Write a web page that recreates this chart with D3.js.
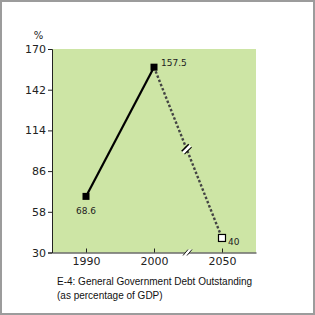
<!DOCTYPE html>
<head>
	<script src="https://d3js.org/d3.v7.min.js"></script>
	<style>
		body { margin: 0; background: #fff; }
		.ticks { font-family: "DejaVu Sans"; font-size: 11px; fill: #222; }
		.vals { font-family: "DejaVu Sans"; font-size: 9px; fill: #222; }
		.caption { font-family: "Liberation Sans"; font-size: 10px; fill: #111; }
	</style>
</head>

<body>
	<script>
		// General Government Debt Outstanding (% of GDP)
		var years = ["1990", "2000", "2050"];
		var debt = [68.6, 157.5, 40];
		var yTicks = [30, 58, 86, 114, 142, 170];
		var captionLines = ["E-4: General Government Debt Outstanding", "(as percentage of GDP)"];

		var width = 315;
		var height = 315;
		var margin = { top: 49, right: 59, bottom: 62.5, left: 52 };

		var svg = d3.select("body")
			.append("svg")
			.attr("width", width)
			.attr("height", height);

		// frame
		svg.append("rect")
			.attr("x", 1).attr("y", 1)
			.attr("width", width - 2).attr("height", height - 2)
			.attr("fill", "#fff")
			.attr("stroke", "#9c9c9c")
			.attr("stroke-width", 2);

		// scales
		var xScale = d3.scalePoint()
			.domain(years)
			.range([margin.left, width - margin.right])
			.padding(0.5);
		var yScale = d3.scaleLinear()
			.domain([30, 170])
			.range([height - margin.bottom, margin.top]);

		// plot background
		svg.append("rect")
			.attr("x", margin.left)
			.attr("y", margin.top)
			.attr("width", width - margin.right - margin.left)
			.attr("height", height - margin.bottom - margin.top)
			.attr("fill", "#cde5a5");

		// axes
		var yAxis = d3.axisLeft(yScale)
			.tickValues(yTicks)
			.tickSize(4)
			.tickPadding(2);
		var gy = svg.append("g")
			.attr("transform", "translate(" + [margin.left, 0] + ")")
			.call(yAxis);
		gy.select(".domain").attr("stroke", "#222");
		gy.selectAll(".tick line").attr("stroke", "#222");
		gy.selectAll("text").attr("class", "ticks").attr("font-family", null).attr("font-size", null);

		var xAxis = d3.axisBottom(xScale)
			.tickSize(-4)
			.tickSizeOuter(0)
			.tickPadding(6);
		var gx = svg.append("g")
			.attr("transform", "translate(" + [0, height - margin.bottom] + ")")
			.call(xAxis);
		gx.select(".domain").attr("stroke", "#222");
		gx.selectAll(".tick line").attr("stroke", "#222");
		gx.selectAll("text").attr("class", "ticks").attr("font-family", null).attr("font-size", null)
			.attr("dy", "0.6em");

		// % unit
		svg.append("text")
			.attr("class", "ticks")
			.attr("x", 38.5).attr("y", 38.5)
			.attr("text-anchor", "middle")
			.style("font-size", "10px")
			.text("%");

		// axis break between 2000 and 2050
		var bx = (xScale("2000") + xScale("2050")) / 2;
		var by = height - margin.bottom;
		svg.append("path")
			.attr("d", "M" + (bx - 5) + "," + (by + 3) + "L" + (bx) + "," + (by - 3) + "L" + (bx + 4) + "," + (by - 3) + "L" + (bx - 1) + "," + (by + 3) + "Z")
			.attr("fill", "#fff");
		svg.append("path")
			.attr("d", "M" + (bx - 5) + "," + (by + 3) + "L" + (bx) + "," + (by - 3) +
				"M" + (bx - 1) + "," + (by + 3) + "L" + (bx + 4) + "," + (by - 3))
			.attr("stroke", "#222")
			.attr("stroke-width", 1);

		// actual line 1990-2000
		var line = d3.line()
			.x(function(d) { return xScale(d.year); })
			.y(function(d) { return yScale(d.value); });
		var pts = years.map(function(y, i) { return { year: y, value: debt[i] }; });

		svg.append("path")
			.datum(pts.slice(0, 2))
			.attr("d", line)
			.attr("fill", "none")
			.attr("stroke", "#000")
			.attr("stroke-width", 2.2);

		// projection 2000-2050
		svg.append("path")
			.datum(pts.slice(1))
			.attr("d", line)
			.attr("fill", "none")
			.attr("stroke", "#444")
			.attr("stroke-width", 2.4)
			.attr("stroke-dasharray", "2.5,2");

		// break on the projection line
		var x0 = xScale("2000"), y0 = yScale(157.5), x1 = xScale("2050"), y1 = yScale(40);
		var t = 0.48;
		var mx = x0 + (x1 - x0) * t, my = y0 + (y1 - y0) * t;
		var g = svg.append("g").attr("transform", "translate(" + [mx, my] + ") rotate(-45)");
		g.append("rect")
			.attr("x", -5).attr("y", -1.5)
			.attr("width", 10).attr("height", 3)
			.attr("fill", "#fff");
		g.append("line").attr("x1", -5).attr("x2", 5).attr("y1", -2).attr("y2", -2)
			.attr("stroke", "#000").attr("stroke-width", 1.5);
		g.append("line").attr("x1", -5).attr("x2", 5).attr("y1", 2).attr("y2", 2)
			.attr("stroke", "#000").attr("stroke-width", 1);

		// markers
		svg.selectAll("rect.mk")
			.data(pts)
			.enter()
			.append("rect")
			.attr("class", "mk")
			.attr("x", function(d) { return xScale(d.year) - 3.5; })
			.attr("y", function(d) { return yScale(d.value) - 3.5; })
			.attr("width", 7)
			.attr("height", 7)
			.attr("fill", function(d, i) { return i == 2 ? "#fff" : "#000"; })
			.attr("stroke", "#000")
			.attr("stroke-width", function(d, i) { return i == 2 ? 1.2 : 0; });

		// value labels
		var labelPos = [
			{ dx: 0, dy: 18, anchor: "middle" },
			{ dx: 7, dy: -1, anchor: "start" },
			{ dx: 6, dy: 7, anchor: "start" }
		];
		svg.selectAll("text.val")
			.data(pts)
			.enter()
			.append("text")
			.attr("class", "vals")
			.attr("x", function(d, i) { return xScale(d.year) + labelPos[i].dx; })
			.attr("y", function(d, i) { return yScale(d.value) + labelPos[i].dy; })
			.attr("text-anchor", function(d, i) { return labelPos[i].anchor; })
			.text(function(d) { return d.value; });

		// caption
		svg.selectAll("text.cap")
			.data(captionLines)
			.enter()
			.append("text")
			.attr("class", "caption")
			.attr("x", 57)
			.attr("y", function(d, i) { return 285 + i * 13.5; })
			.text(function(d) { return d; });
	</script>
</body>
</html>
